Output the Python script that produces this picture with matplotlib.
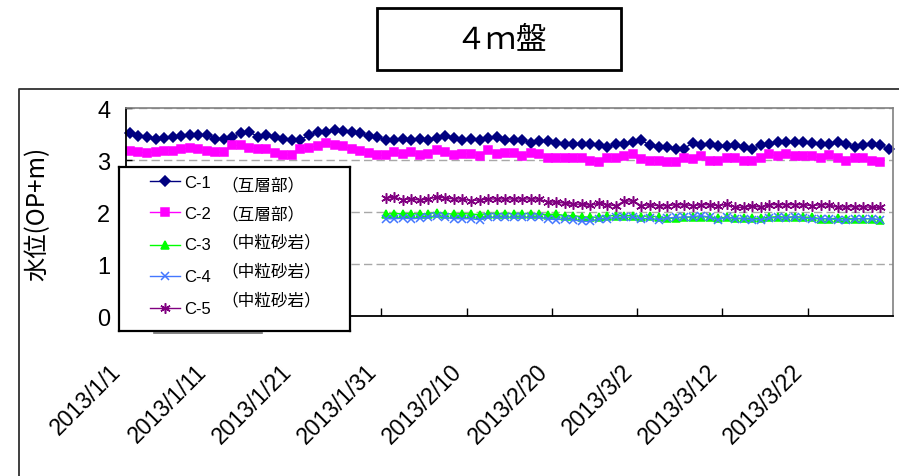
import matplotlib
matplotlib.use("Agg")
import pandas as pd
from matplotlib import pyplot as plt
from matplotlib.lines import Line2D
from matplotlib.patches import Rectangle

JP = ["Noto Sans CJK JP", "DejaVu Sans"]
NUM = ["Liberation Sans", "DejaVu Sans"]

# 日毎の水位 (OP+m)
c1 = [3.51, 3.46, 3.44, 3.41, 3.43, 3.44, 3.46, 3.49, 3.48, 3.49, 3.41, 3.41,
      3.44, 3.52, 3.54, 3.45, 3.49, 3.45, 3.41, 3.38, 3.39, 3.48, 3.54, 3.54,
      3.57, 3.56, 3.53, 3.51, 3.46, 3.44, 3.39, 3.39, 3.40, 3.39, 3.40, 3.39,
      3.42, 3.46, 3.42, 3.39, 3.40, 3.39, 3.43, 3.44, 3.39, 3.39,
      3.39, 3.33, 3.37, 3.37, 3.33, 3.31, 3.31, 3.31, 3.31, 3.28, 3.25, 3.31,
      3.31, 3.35, 3.38, 3.28, 3.25, 3.25, 3.22, 3.22, 3.33, 3.28, 3.31, 3.26,
      3.26, 3.28, 3.25, 3.22, 3.28, 3.30, 3.35, 3.35, 3.35, 3.35, 3.33, 3.31,
      3.31, 3.35, 3.31, 3.25, 3.28, 3.31, 3.28, 3.22]
c2 = [3.17, 3.15, 3.14, 3.16, 3.18, 3.18, 3.21, 3.23, 3.21, 3.17, 3.15, 3.15,
      3.28, 3.28, 3.23, 3.22, 3.21, 3.13, 3.10, 3.09, 3.21, 3.24, 3.27, 3.32,
      3.29, 3.26,
      3.22, 3.17, 3.13, 3.09, 3.09, 3.15, 3.12, 3.15, 3.09, 3.12, 3.19, 3.15,
      3.09, 3.12, 3.12, 3.07, 3.19, 3.11, 3.13, 3.13,
      3.07, 3.13, 3.11, 3.04, 3.04, 3.04, 3.04, 3.04, 2.99, 2.96, 3.04, 3.04,
      3.07, 3.11, 3.01, 2.98, 2.99, 2.96, 2.96, 3.04, 3.01, 3.07, 2.99, 2.99,
      3.03, 3.04, 2.98, 2.99, 3.03, 3.11, 3.07, 3.11, 3.07, 3.07, 3.07, 3.04,
      3.09, 3.03, 2.99, 3.03, 3.03, 2.99, 2.96]
c3 = [1.96, 1.97, 1.97, 1.97, 1.96, 1.97, 1.99, 1.97, 1.96, 1.97, 1.96, 1.95,
      1.97, 1.97, 1.97, 1.97, 1.97, 1.97, 1.96, 1.95, 1.96, 1.93, 1.93, 1.91,
      1.90, 1.90, 1.93, 1.93, 1.93, 1.93,
      1.91, 1.93, 1.90, 1.88, 1.88, 1.90, 1.90, 1.91, 1.90, 1.88, 1.90, 1.88,
      1.88, 1.88, 1.88, 1.90, 1.91, 1.90, 1.91, 1.90, 1.90, 1.87, 1.87, 1.88,
      1.87, 1.87, 1.87, 1.87, 1.85]
c4 = [1.87, 1.87, 1.88, 1.87, 1.88, 1.90, 1.93, 1.90, 1.87, 1.87, 1.87, 1.85,
      1.90, 1.90, 1.90, 1.90, 1.90, 1.90, 1.90, 1.87, 1.85, 1.87, 1.85, 1.82,
      1.82, 1.87, 1.87, 1.90, 1.90, 1.90,
      1.87, 1.88, 1.85, 1.88, 1.90, 1.90, 1.91, 1.93, 1.90, 1.85, 1.90, 1.87,
      1.87, 1.85, 1.85, 1.88, 1.90, 1.88, 1.91, 1.88, 1.87, 1.87, 1.87, 1.85,
      1.84, 1.87, 1.87, 1.87, 1.85]
c5 = [2.27, 2.28, 2.24, 2.25, 2.23, 2.25, 2.29, 2.27, 2.25, 2.25, 2.22, 2.23,
      2.25, 2.25, 2.25, 2.25, 2.25, 2.25, 2.25, 2.19, 2.19, 2.17, 2.15, 2.15,
      2.13, 2.17, 2.14, 2.12, 2.21, 2.21,
      2.12, 2.14, 2.12, 2.12, 2.14, 2.14, 2.12, 2.14, 2.14, 2.12, 2.15, 2.09,
      2.09, 2.12, 2.09, 2.14, 2.14, 2.14, 2.14, 2.14, 2.12, 2.14, 2.14, 2.09,
      2.10, 2.10, 2.10, 2.09, 2.09]

names = ["C-1", "C-2", "C-3", "C-4", "C-5"]
layers = ["（互層部）", "（互層部）", "（中粒砂岩）", "（中粒砂岩）", "（中粒砂岩）"]
starts = ["2013-01-01 12:00", "2013-01-01 12:00", "2013-01-31 12:00",
          "2013-01-31 12:00", "2013-01-31 12:00"]
series = [c1, c2, c3, c4, c5]

colors = ["#000080", "#FF00FF", "#00FF00", "#4477FF", "#800080"]
markers = ["D", "s", "^", "x", (6, 2, 0)]
msizes = [4.8, 6, 6, 6, 7.5]

tick_dates = pd.date_range("2013-01-01", "2013-03-22", freq="10D")
tick_labels = [f"{d.year}/{d.month}/{d.day}" for d in tick_dates]
y_ticks = [0, 1, 2, 3, 4]

W, H = 899, 477
fig = plt.figure(figsize=(W / 100, H / 100), dpi=100)


def fx(px):
    return px / W


def fy(py):
    return 1 - py / H


ax = fig.add_axes([fx(125.7), fy(317), fx(893) - fx(125.7), fy(109) - fy(317)])

for vals, start, col, mk, ms in zip(series, starts, colors, markers, msizes):
    x = pd.date_range(start, periods=len(vals), freq="D")
    ax.plot(x, vals, color=col, lw=1, marker=mk, ms=ms, mew=1.1,
            mec=col, mfc=col, clip_on=False)

ax.set_xlim(pd.Timestamp("2013-01-01"), pd.Timestamp("2013-04-01"))
ax.set_ylim(0, 4)
ax.set_xticks(tick_dates)
ax.set_xticklabels(tick_labels, rotation=45, ha="right", va="top",
                   fontsize=16.5, family=NUM)
ax.set_yticks(y_ticks)
ax.set_yticklabels([str(v) for v in y_ticks], fontsize=17, family=NUM)
ax.tick_params(axis="x", direction="in", length=6, width=1, pad=31)
ax.tick_params(axis="y", direction="in", length=4, width=1, pad=11)
ax.yaxis.grid(True, color="#A8A8A8", lw=1, dashes=(6, 3))
ax.set_axisbelow(True)

for side in ["left", "bottom"]:
    ax.spines[side].set_color("black")
    ax.spines[side].set_linewidth(1.3)
for side in ["top", "right"]:
    ax.spines[side].set_color("#808080")
    ax.spines[side].set_linewidth(1.2)

fig.text(fx(37), fy(214), "水位(OP+m)", rotation=90, ha="center", va="center",
         fontsize=17.5, family=JP)

# 凡例
lg = fig.add_axes([fx(119), fy(332), fx(350) - fx(119), fy(168) - fy(332)],
                  zorder=5)
lg.set_xlim(0, 231)
lg.set_ylim(164, 0)
lg.set_xticks([])
lg.set_yticks([])
for s in lg.spines.values():
    s.set_linewidth(1.6)
    s.set_color("black")

row_y = [14, 45, 78, 109, 141]
text_y = [16, 47, 78, 110, 142]
layer_y = [18, 47, 75, 104, 133]
for i in range(5):
    lg.add_line(Line2D([31, 61], [row_y[i]] * 2, color=colors[i], lw=1))
    lg.plot([46], [row_y[i]], marker=markers[i], ms=msizes[i], mew=1.1,
            color=colors[i], ls="none")
    lg.text(65, text_y[i], names[i], fontsize=12, family=NUM, va="center")
    lg.text(102, layer_y[i], layers[i], fontsize=12, family=JP, va="center")

fig.add_artist(Line2D([fx(154), fx(262)], [fy(333.5)] * 2, color="#707070", lw=1.2))

# 外枠とタイトル
fig.add_artist(Line2D([fx(19), fx(19), fx(899)], [0, fy(90), fy(90)],
                      color="#303030", lw=1.3))
fig.add_artist(Rectangle((fx(377), fy(71)), fx(621) - fx(377), fy(9) - fy(71),
                         transform=fig.transFigure, fill=False,
                         edgecolor="black", lw=2))
fig.text(fx(501), fy(41), "４ｍ盤", ha="center", va="center", fontsize=22,
         family=JP)

fig.savefig("out.png", dpi=100)
